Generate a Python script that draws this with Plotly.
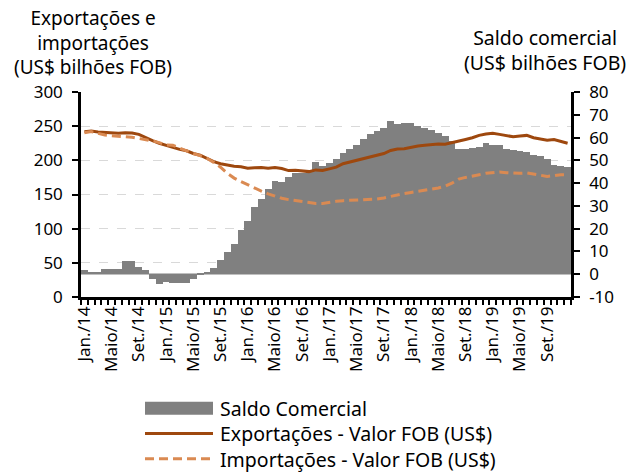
import plotly.graph_objects as go

month_names = ["Jan.", "Fev.", "Mar.", "Abr.", "Maio", "Jun.", "Jul.", "Ago.", "Set.", "Out.", "Nov.", "Dez."]
years = ["14", "15", "16", "17", "18", "19"]
categories = [f"{m}/{y}" for y in years for m in month_names]
label_months = ["Jan.", "Maio", "Set."]

saldo = [2.0, 1.0, 1.0, 2.5, 2.5, 2.5, 6.0, 6.0, 3.2, 2.0, -1.9, -4.2,
         -3.5, -4.0, -3.9, -3.8, -1.9, 0.4, 1.0, 2.8, 6.4, 9.6, 13.2, 19.3,
         23.2, 29.3, 33.1, 37.5, 41.1, 40.5, 42.7, 44.3, 44.4, 45.3, 49.1, 47.3,
         48.8, 50.4, 53.4, 55.1, 56.6, 59.5, 61.4, 62.9, 64.2, 67.2, 66.1, 66.5,
         66.5, 65.2, 64.3, 63.5, 62.0, 60.5, 58.5, 55.1, 54.8, 55.5, 55.8, 57.8,
         56.9, 56.6, 55.0, 54.7, 54.1, 53.6, 52.2, 51.8, 50.7, 47.8, 47.4, 47.2]

exportacoes = [242, 243, 241.5, 240.5, 240, 239.5, 240.5, 240, 238, 233, 229, 225,
               221.5, 219, 216, 214, 210, 207.5, 203, 198, 195, 193, 191.5, 190.5,
               188.5, 189, 189.5, 188.5, 189.5, 188, 185, 185.5, 185, 183.5, 186, 185,
               187.5, 190, 195, 197.5, 199.5, 202, 205, 207.5, 210, 214.5, 216.5, 217,
               219.5, 221, 222, 223.5, 224, 223.5, 225.5, 228.5, 230.5, 233, 236.5, 238.5,
               239.5, 238, 236, 234.5, 235.5, 236.5, 233, 231, 229.5, 230.5, 228, 225]

importacoes = [240.5, 242, 239.5, 237, 236, 235.5, 234.5, 233.7, 232, 230.7, 228.5, 226,
               222.5, 222, 218, 213, 210, 207, 203, 197, 190, 181, 174, 169,
               164, 159.5, 155, 151, 147.5, 144.5, 142.5, 141, 139.5, 138.5, 137, 137,
               139, 140, 141, 141.5, 141.5, 142, 142.5, 143.5, 145, 147.5, 149.5, 151.5,
               153, 155, 156.5, 158, 159.5, 162, 166.5, 172.5, 175, 176.5, 179, 181,
               182.5, 183, 182, 181, 181, 181.5, 180, 178.5, 176.5, 177.5, 179, 179]

left_ticks = [0, 50, 100, 150, 200, 250, 300]
right_ticks = [-10, 0, 10, 20, 30, 40, 50, 60, 70, 80]

series_names = ["Saldo Comercial", "Exportações - Valor FOB (US$)", "Importações - Valor FOB (US$)"]
left_title = ["Exportações e", "importações", "(US$ bilhões FOB)"]
right_title = ["Saldo comercial", "(US$ bilhões FOB)"]

x_idx = list(range(len(categories)))
tickvals = [i for i, c in enumerate(categories) if c.split("/")[0] in label_months]
ticktext = [categories[i] for i in tickvals]

FONT = "Noto Sans"
GRAY = "#808080"
EXP = "#9E480E"
IMP = "#DA8A52"
DASH = "9px,5px"
TS = 19.5  # legend / right title font size
TS_LEFT = 19  # left title font size

fig = go.Figure()
fig.add_trace(go.Bar(x=x_idx, y=saldo, yaxis="y", marker=dict(color=GRAY, line=dict(width=0)),
                     name=series_names[0], width=1.0))
fig.add_trace(go.Scatter(x=x_idx, y=exportacoes, yaxis="y2", mode="lines",
                         line=dict(color=EXP, width=3), name=series_names[1]))
fig.add_trace(go.Scatter(x=x_idx, y=importacoes, yaxis="y2", mode="lines",
                         line=dict(color=IMP, width=3, dash=DASH), name=series_names[2]))

L, R, T, B = 81, 61, 92, 175
W, H = 632, 472
pw, ph = W - L - R, H - T - B

def px(xp):
    return (xp - L) / pw

def py(yp):
    return (H - B - yp) / ph

annots = [
    dict(text="<br>".join(left_title), x=px(93), y=py(42.5), xref="paper", yref="paper",
         xanchor="center", yanchor="middle", align="center", showarrow=False, borderpad=0,
         font=dict(family=FONT, size=TS_LEFT, color="black")),
    dict(text="<br>".join(right_title), x=px(545), y=py(50), xref="paper", yref="paper",
         xanchor="center", yanchor="middle", align="center", showarrow=False, borderpad=0,
         font=dict(family=FONT, size=TS, color="black")),
]

# manual legend (Excel-style, wide symbols)
line_h = TS * 1.3
leg_mid = 433.5
leg_rows = [leg_mid - line_h, leg_mid, leg_mid + line_h]
shapes = [
    dict(type="rect", xref="paper", yref="paper", x0=px(145), x1=px(213),
         y0=py(leg_rows[0] - 6.5), y1=py(leg_rows[0] + 6.5), fillcolor=GRAY, line=dict(width=0)),
    dict(type="line", xref="paper", yref="paper", x0=px(145), x1=px(213),
         y0=py(leg_rows[1]), y1=py(leg_rows[1]), line=dict(color=EXP, width=3)),
    dict(type="line", xref="paper", yref="paper", x0=px(145), x1=px(213),
         y0=py(leg_rows[2]), y1=py(leg_rows[2]), line=dict(color=IMP, width=3, dash=DASH)),
]
annots.append(dict(text="<br>".join(series_names), x=px(219), y=py(leg_mid), xref="paper",
                   yref="paper", xanchor="left", yanchor="middle", align="left", showarrow=False,
                   borderpad=0, font=dict(family=FONT, size=TS, color="black")))

fig.update_layout(
    width=W, height=H,
    margin=dict(l=L, r=R, t=T, b=B, pad=0, autoexpand=False),
    paper_bgcolor="white", plot_bgcolor="white",
    font=dict(family=FONT, size=17, color="black"),
    bargap=0,
    showlegend=False,
    annotations=annots,
    shapes=shapes,
    xaxis=dict(range=[-0.5, len(categories) - 0.5], tickmode="array", tickvals=tickvals,
               ticktext=ticktext, tickangle=-90, ticks="", showgrid=False, zeroline=False,
               showline=True, linecolor="black", linewidth=2.5, anchor="y", automargin=False,
               tickfont=dict(family=FONT, size=17, color="black"),
               minor=dict(ticks="outside", tickmode="linear", tick0=-0.5, dtick=1,
                          ticklen=5, tickwidth=2, tickcolor="black", showgrid=False)),
    yaxis=dict(side="right", range=[-10, 80], tickmode="array", tickvals=right_ticks,
               ticktext=[str(v) for v in right_ticks], showgrid=False, automargin=False,
               zeroline=True, zerolinecolor="#BFBFBF", zerolinewidth=1.5,
               showline=True, linecolor="black", linewidth=2.5,
               ticks="outside", ticklen=6, tickwidth=2, tickcolor="black",
               ticklabelstandoff=6,
               tickfont=dict(family=FONT, size=17, color="black")),
    yaxis2=dict(side="left", overlaying="y", range=[0, 300], tickmode="array",
                tickvals=left_ticks, ticktext=[str(v) for v in left_ticks], automargin=False,
                showgrid=True, gridcolor="#D9D9D9", griddash="dash", gridwidth=1,
                zeroline=False, showline=True, linecolor="black", linewidth=2.5,
                ticks="outside", ticklen=6, tickwidth=2, tickcolor="black",
                ticklabelstandoff=6,
                tickfont=dict(family=FONT, size=17, color="black")),
)

fig.write_html("out.html", config={"displayModeBar": False},
               post_script="document.body.style.margin='0';document.body.style.padding='0';")
